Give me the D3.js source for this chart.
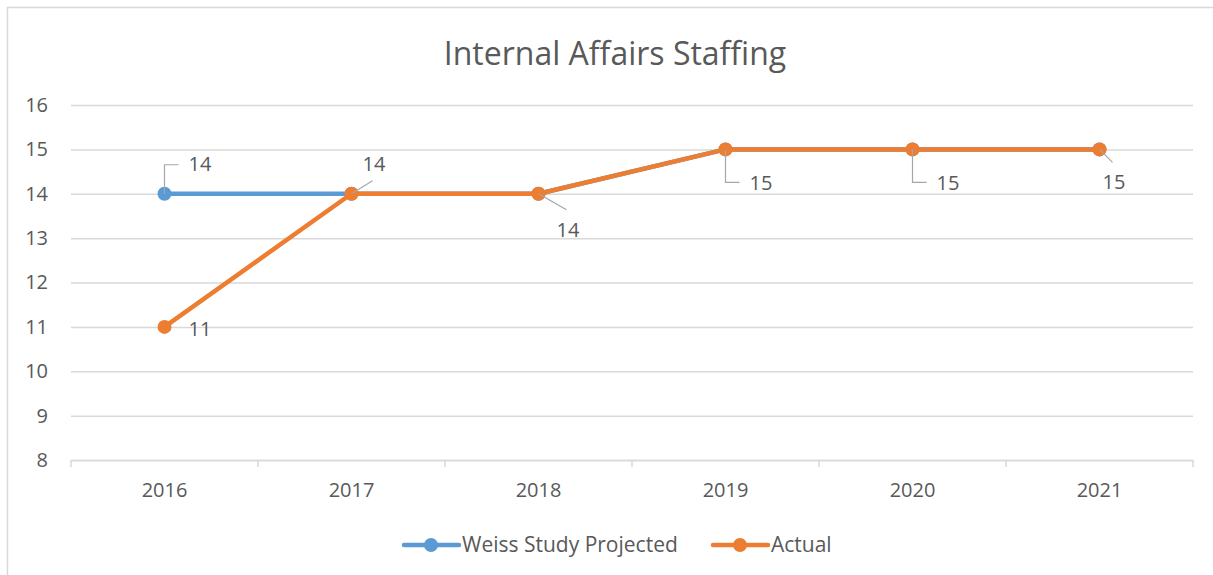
<!DOCTYPE html>
<html>
<head>
<meta charset="utf-8">
<script src="https://cdn.jsdelivr.net/npm/d3@7"></script>
<style>
  body { margin: 0; background: #fff; }
  text { font-family: "Open Sans", sans-serif; fill: #595959; }
</style>
</head>
<body>
<div id="chart"></div>
<script>
const years = ['2016', '2017', '2018', '2019', '2020', '2021'];
const weissProjected = [14, 14, 14, 15, 15, 15];
const actual = [11, 14, 14, 15, 15, 15];
const yTicks = [8, 9, 10, 11, 12, 13, 14, 15, 16];

// label placement (dx, dy of text from point, leader shape)
const weissLabels = [{ i: 0, dx: 24, dy: -30, leader: 'elbowUp' }];
const actualLabels = [
  { i: 0, dx: 24, dy: 2, leader: null },
  { i: 1, dx: 11, dy: -30, leader: 'diag' },
  { i: 2, dx: 18, dy: 36, leader: 'diag' },
  { i: 3, dx: 24, dy: 34, leader: 'elbowDown' },
  { i: 4, dx: 24, dy: 34, leader: 'elbowDown' },
  { i: 5, dx: 3, dy: 33, leader: 'diag' }
];

const W = 1213, H = 575;
const margin = { left: 71, right: 20, top: 105, bottom: 115 };
const blue = '#5B9BD5', orange = '#ED7D31', grid = '#d9d9d9';

const svg = d3.select('#chart').append('svg')
  .attr('width', W)
  .attr('height', H);

// chart area border
svg.append('rect')
  .attr('x', 7.5).attr('y', 7.5)
  .attr('width', W + 20).attr('height', H + 20)
  .attr('fill', 'none').attr('stroke', grid).attr('stroke-width', 1.5);

svg.append('text')
  .attr('x', 615).attr('y', 65)
  .attr('text-anchor', 'middle')
  .style('font-size', '32px')
  .text('Internal Affairs Staffing');

const x = d3.scaleBand()
  .domain(years)
  .range([margin.left, W - margin.right]);

const y = d3.scaleLinear()
  .domain([8, 16])
  .range([H - margin.bottom, margin.top]);

const cx = d => x(d) + x.bandwidth() / 2;

// Y gridlines and labels
const yAxis = svg.append('g')
  .attr('transform', `translate(${margin.left},0)`)
  .call(d3.axisLeft(y).tickValues(yTicks).tickSize(-(W - margin.left - margin.right)).tickPadding(23));
yAxis.select('.domain').remove();
yAxis.selectAll('.tick line').attr('stroke', grid).attr('stroke-width', 1.5);
yAxis.selectAll('.tick text').style('font-size', '20px').attr('fill', '#595959');

// X axis
const xAxis = svg.append('g')
  .attr('transform', `translate(0,${y(8)})`)
  .call(d3.axisBottom(x).tickSize(0).tickPadding(23));
xAxis.select('.domain').attr('stroke', grid).attr('stroke-width', 1.5);
xAxis.selectAll('.tick text').style('font-size', '20px').attr('fill', '#595959');

// category separators
svg.append('g')
  .selectAll('line')
  .data(years.concat(['end']))
  .enter()
  .append('line')
  .attr('x1', (d, i) => i < years.length ? x(d) : x.range()[1])
  .attr('x2', (d, i) => i < years.length ? x(d) : x.range()[1])
  .attr('y1', y(8)).attr('y2', y(8) + 7)
  .attr('stroke', grid).attr('stroke-width', 1.5);

const line = d3.line()
  .x((d, i) => cx(years[i]))
  .y(d => y(d));

function drawSeries(values, color) {
  svg.append('path')
    .datum(values)
    .attr('d', line)
    .attr('fill', 'none')
    .attr('stroke', color)
    .attr('stroke-width', 4.5)
    .attr('stroke-linejoin', 'round');
  svg.append('g')
    .selectAll('circle')
    .data(values)
    .enter()
    .append('circle')
    .attr('cx', (d, i) => cx(years[i]))
    .attr('cy', d => y(d))
    .attr('r', 7)
    .attr('fill', color);
}

drawSeries(weissProjected, blue);
drawSeries(actual, orange);

function drawLabels(values, labels) {
  const g = svg.append('g');
  labels.forEach(l => {
    const px = cx(years[l.i]), py = y(values[l.i]);
    const tx = px + l.dx, ty = py + l.dy;
    if (l.leader === 'elbowUp') {
      g.append('path')
        .attr('d', `M${px},${py}V${ty + 1}H${tx - 10}`)
        .attr('fill', 'none').attr('stroke', '#a6a6a6').attr('stroke-width', 1.2);
    } else if (l.leader === 'elbowDown') {
      g.append('path')
        .attr('d', `M${px},${py}V${ty - 1}H${tx - 10}`)
        .attr('fill', 'none').attr('stroke', '#a6a6a6').attr('stroke-width', 1.2);
    } else if (l.leader === 'diag') {
      const ex = tx + 10;
      const ey = l.dy < 0 ? ty + 17 : ty - 20;
      g.append('line')
        .attr('x1', px).attr('y1', py)
        .attr('x2', ex).attr('y2', ey)
        .attr('stroke', '#a6a6a6').attr('stroke-width', 1.2);
    }
    g.append('text')
      .attr('x', tx).attr('y', ty)
      .attr('dy', '0.35em')
      .style('font-size', '20px')
      .text(values[l.i]);
  });
}

drawLabels(weissProjected, weissLabels);
drawLabels(actual, actualLabels);

// legend
const legendItems = [
  { name: 'Weiss Study Projected', color: blue, x: 404 },
  { name: 'Actual', color: orange, x: 713 }
];
const legend = svg.append('g').attr('transform', 'translate(0,545)');
legendItems.forEach(it => {
  legend.append('line')
    .attr('x1', it.x).attr('x2', it.x + 55)
    .attr('y1', 0).attr('y2', 0)
    .attr('stroke', it.color).attr('stroke-width', 4.5)
    .attr('stroke-linecap', 'round');
  legend.append('circle')
    .attr('cx', it.x + 27).attr('cy', 0).attr('r', 7)
    .attr('fill', it.color);
  legend.append('text')
    .attr('x', it.x + 58).attr('y', 0)
    .attr('dy', '0.35em')
    .style('font-size', '21px')
    .text(it.name);
});
</script>
</body>
</html>
